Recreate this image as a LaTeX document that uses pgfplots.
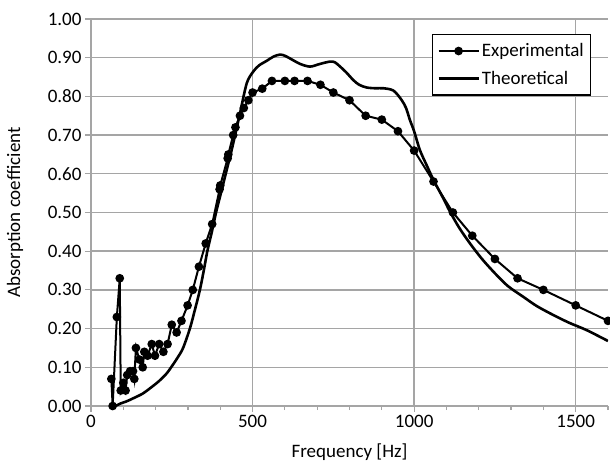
\documentclass[border=0pt]{standalone}
\usepackage{fontspec}
\setmainfont{Carlito}
\usepackage{pgfplots}
\pgfplotsset{compat=1.18}
\definecolor{gridgray}{RGB}{165,165,165}
\begin{document}
\begin{tikzpicture}
\begin{axis}[
  at={(0,0)}, anchor=south west,
  scale only axis, width=517bp, height=387bp,
  xmin=0, xmax=1600, ymin=0, ymax=1,
  axis x line*=bottom, axis y line*=left,
  axis line style={gridgray, line width=1.4bp},
  xtick={0,500,1000,1500}, minor xtick={100,200,300,400,600,700,800,900,1100,1200,1300,1400,1600},
  ytick={0,0.1,...,1.0},
  tick align=outside,
  major tick length=6bp, minor tick length=4bp,
  every tick/.style={gridgray, line width=1.2bp},
  xmajorgrids, ymajorgrids,
  major grid style={gridgray, line width=1.4bp},
  /pgf/number format/assume math mode=true,
  /pgf/number format/set thousands separator={},
  yticklabel style={/pgf/number format/.cd, fixed, fixed zerofill, precision=2},
  tick label style={font=\fontsize{19bp}{22bp}\selectfont},
  xlabel={Frequency [Hz]}, ylabel={Absorption coefficient},
  every axis x label/.style={at={(axis description cs:0.5,0)}, yshift=-46bp, anchor=center, font=\fontsize{19bp}{22bp}\selectfont},
  every axis y label/.style={at={(axis description cs:0,0.5)}, xshift=-76bp, rotate=90, anchor=center, font=\fontsize{19bp}{22bp}\selectfont},
  legend style={at={(0.659,0.961)}, anchor=north west, draw=black, line width=1.2bp,
    font=\fontsize{19bp}{22bp}\selectfont, row sep=9bp, inner xsep=5bp, inner ysep=7bp,
    cells={anchor=west}},
  legend cell align=left,
  legend image code/.code={\draw[mark repeat=2,mark phase=2,#1] plot coordinates {(0bp,0bp) (20bp,0bp) (40bp,0bp)};},
]
\addplot[black, line width=2bp, mark=*, mark size=3.3bp, mark options={solid}] coordinates {
(63,0.07) (67,0.00) (80,0.23) (89,0.33) (92,0.04) (100,0.06) (107,0.04) (112,0.08)
(121,0.09) (130,0.09) (134,0.07) (139,0.15) (150,0.12) (160,0.10) (165,0.14) (175,0.13)
(188,0.16) (198,0.13) (211,0.16) (224,0.14) (237,0.16) (250,0.21) (265,0.19) (280,0.22)
(299,0.26) (315,0.30) (334,0.36) (355,0.42) (375,0.47) (398,0.56) (400,0.57) (423,0.64)
(425,0.65) (440,0.70) (447,0.72) (461,0.75) (473,0.77) (487,0.79) (500,0.81) (530,0.82)
(560,0.84) (600,0.84) (630,0.84) (670,0.84) (710,0.83) (750,0.81) (800,0.79) (850,0.75)
(900,0.74) (950,0.71) (1000,0.66) (1060,0.58) (1120,0.50) (1180,0.44) (1250,0.38)
(1320,0.33) (1400,0.30) (1500,0.26) (1600,0.22)
};
\addlegendentry{Experimental}
\addplot[black, line width=2.6bp, smooth, no marks] coordinates {
(76,0.000) (90,0.006) (110,0.012) (131,0.020) (160,0.032) (183,0.046) (210,0.064)
(234,0.084) (248,0.100) (268,0.125) (285,0.150) (306,0.200) (322,0.250) (337,0.300)
(349,0.350) (360,0.400) (374,0.450) (387,0.500) (402,0.550) (417,0.600) (432,0.650)
(446,0.700) (461,0.756) (482,0.834) (502,0.864) (520,0.880) (544,0.892) (565,0.903)
(585,0.908) (600,0.905) (616,0.898) (647,0.884) (678,0.877) (709,0.884) (740,0.890)
(755,0.888) (771,0.877) (790,0.862) (812,0.842) (830,0.830) (853,0.823) (880,0.821)
(905,0.821) (936,0.815) (961,0.791) (975,0.770) (987,0.739) (1000,0.710) (1018,0.661)
(1040,0.620) (1060,0.584) (1090,0.537) (1111,0.502) (1140,0.460) (1173,0.420)
(1210,0.380) (1250,0.343) (1290,0.310) (1338,0.282) (1380,0.258) (1431,0.235)
(1480,0.215) (1534,0.196) (1600,0.168)
};
\addlegendentry{Theoretical}
\end{axis}
\pgfresetboundingbox
\path[use as bounding box] ([shift={(-91bp,-62bp)}]current axis.south west) rectangle ([shift={(2bp,19bp)}]current axis.north east);
\end{tikzpicture}
\end{document}
